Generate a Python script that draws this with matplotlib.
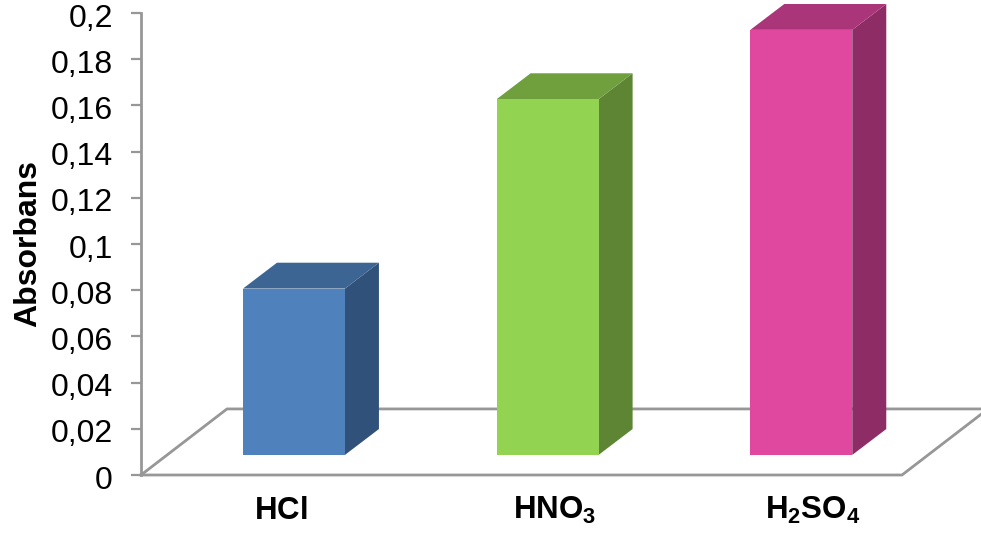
import matplotlib
matplotlib.use('Agg')
import matplotlib.pyplot as plt
from matplotlib.patches import Polygon
from matplotlib.transforms import ScaledTranslation

plt.rcParams['font.family'] = 'Liberation Sans'
plt.rcParams['mathtext.fontset'] = 'custom'
plt.rcParams['mathtext.bf'] = 'Liberation Sans:bold'
plt.rcParams['mathtext.rm'] = 'Liberation Sans'

categories = [r'$\mathbf{HCl}$', r'$\mathbf{HNO_3}$', r'$\mathbf{H_2SO_4}$']
values = [0.072, 0.154, 0.184]
yticks = [0, 0.02, 0.04, 0.06, 0.08, 0.1, 0.12, 0.14, 0.16, 0.18, 0.2]
yticklabels = ['0', '0,02', '0,04', '0,06', '0,08', '0,1', '0,12', '0,14', '0,16', '0,18', '0,2']
front_colors = ['#4F81BD', '#92D351', '#E0479E']
side_colors = ['#30527A', '#5E8533', '#8E2C66']
top_colors = ['#3C6594', '#709F3E', '#AB3579']

GREY = '#979797'
# depth of the fake 3D box and floor, in data units
BAR_W = 0.402
BAR_DX = 0.134
BAR_DY = 0.0112
LIFT = 0.0087
FLOOR_DX = 0.339
FLOOR_DY = 0.0286

fig = plt.figure(figsize=(9.81, 5.36), dpi=100)
ax = fig.add_axes([141 / 981, 61 / 536, 761 / 981, 462 / 536])
ax.set_xlim(0, 3)
ax.set_ylim(0, 0.2)

for side in ['top', 'right', 'bottom']:
    ax.spines[side].set_visible(False)
ax.spines['left'].set_color(GREY)
ax.spines['left'].set_linewidth(2)
ax.set_xticks([])
ax.set_yticks(yticks)
ax.set_yticklabels(yticklabels)
ax.tick_params(axis='y', length=7.2, width=1.6, color=GREY, pad=13, labelsize=23, labelcolor='black')
# nudge the tick labels down a touch
nudge = ScaledTranslation(0, -1.5 / 72, fig.dpi_scale_trans)
for label in ax.get_yticklabels():
    label.set_transform(label.get_transform() + nudge)
ax.set_ylabel('Absorbans', fontsize=23, fontweight='bold', labelpad=0)
ax.yaxis.set_label_coords(-0.129, 0.502)

# floor
ax.plot([0, 3, 3 + FLOOR_DX], [0, 0, FLOOR_DY], color=GREY, lw=2, clip_on=False, zorder=2)
ax.plot([0, FLOOR_DX, 3 + FLOOR_DX], [0, FLOOR_DY, FLOOR_DY], color=GREY, lw=2, clip_on=False, zorder=2)

# bars
for i, val in enumerate(values):
    x0 = i + 0.603 - BAR_W / 2
    x1 = x0 + BAR_W
    y0 = LIFT
    y1 = LIFT + val
    ax.add_patch(Polygon([(x1, y0), (x1 + BAR_DX, y0 + BAR_DY), (x1 + BAR_DX, y1 + BAR_DY), (x1, y1)],
                         facecolor=side_colors[i], edgecolor='none', clip_on=False, zorder=3))
    ax.add_patch(Polygon([(x0, y1), (x1, y1), (x1 + BAR_DX, y1 + BAR_DY), (x0 + BAR_DX, y1 + BAR_DY)],
                         facecolor=top_colors[i], edgecolor='none', clip_on=False, zorder=3))
    ax.add_patch(Polygon([(x0, y0), (x1, y0), (x1, y1), (x0, y1)],
                         facecolor=front_colors[i], edgecolor='none', clip_on=False, zorder=4))

# category names sit a little right of the bars
label_pos = [0.55, 1.632, 2.648]
for pos, name in zip(label_pos, categories):
    ax.text(pos, -0.0155, name, fontsize=22.5, ha='center', va='center', clip_on=False)

fig.savefig('out.png', dpi=100)
